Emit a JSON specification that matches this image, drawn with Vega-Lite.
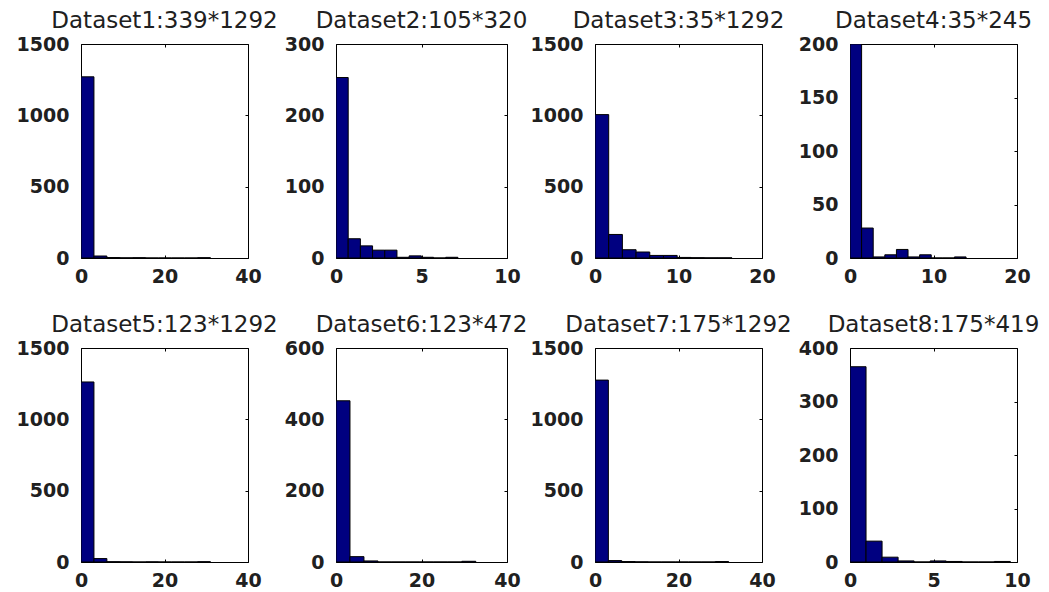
{
  "$schema": "https://vega.github.io/schema/vega-lite/v6.json",
  "background": "white",
  "padding": {"left": 15, "top": 9, "right": 0, "bottom": 0},
  "datasets": {
    "hist": [
      {"p": 1, "a": 0, "b": 3.1, "n": 1270}, {"p": 1, "a": 3.1, "b": 6.2, "n": 14}, {"p": 1, "a": 6.2, "b": 9.3, "n": 3}, {"p": 1, "a": 9.3, "b": 12.4, "n": 1}, {"p": 1, "a": 12.4, "b": 15.5, "n": 2}, {"p": 1, "a": 15.5, "b": 18.6, "n": 0}, {"p": 1, "a": 18.6, "b": 21.7, "n": 0}, {"p": 1, "a": 21.7, "b": 24.8, "n": 0}, {"p": 1, "a": 24.8, "b": 27.9, "n": 0}, {"p": 1, "a": 27.9, "b": 31.0, "n": 2},
      {"p": 2, "a": 0, "b": 0.713, "n": 253}, {"p": 2, "a": 0.713, "b": 1.426, "n": 27}, {"p": 2, "a": 1.426, "b": 2.139, "n": 17}, {"p": 2, "a": 2.139, "b": 2.852, "n": 11}, {"p": 2, "a": 2.852, "b": 3.565, "n": 11}, {"p": 2, "a": 3.565, "b": 4.278, "n": 1}, {"p": 2, "a": 4.278, "b": 4.991, "n": 3}, {"p": 2, "a": 4.991, "b": 5.704, "n": 1}, {"p": 2, "a": 5.704, "b": 6.417, "n": 0}, {"p": 2, "a": 6.417, "b": 7.13, "n": 1},
      {"p": 3, "a": 0, "b": 1.64, "n": 1005}, {"p": 3, "a": 1.64, "b": 3.28, "n": 165}, {"p": 3, "a": 3.28, "b": 4.92, "n": 58}, {"p": 3, "a": 4.92, "b": 6.56, "n": 42}, {"p": 3, "a": 6.56, "b": 8.2, "n": 18}, {"p": 3, "a": 8.2, "b": 9.84, "n": 18}, {"p": 3, "a": 9.84, "b": 11.48, "n": 4}, {"p": 3, "a": 11.48, "b": 13.12, "n": 2}, {"p": 3, "a": 13.12, "b": 14.76, "n": 1}, {"p": 3, "a": 14.76, "b": 16.4, "n": 1},
      {"p": 4, "a": 0, "b": 1.39, "n": 200}, {"p": 4, "a": 1.39, "b": 2.78, "n": 28}, {"p": 4, "a": 2.78, "b": 4.17, "n": 1}, {"p": 4, "a": 4.17, "b": 5.56, "n": 3}, {"p": 4, "a": 5.56, "b": 6.95, "n": 8}, {"p": 4, "a": 6.95, "b": 8.34, "n": 1}, {"p": 4, "a": 8.34, "b": 9.73, "n": 3}, {"p": 4, "a": 9.73, "b": 11.12, "n": 0}, {"p": 4, "a": 11.12, "b": 12.51, "n": 0}, {"p": 4, "a": 12.51, "b": 13.9, "n": 1},
      {"p": 5, "a": 0, "b": 3.1, "n": 1262}, {"p": 5, "a": 3.1, "b": 6.2, "n": 24}, {"p": 5, "a": 6.2, "b": 9.3, "n": 2}, {"p": 5, "a": 9.3, "b": 12.4, "n": 1}, {"p": 5, "a": 12.4, "b": 15.5, "n": 0}, {"p": 5, "a": 15.5, "b": 18.6, "n": 1}, {"p": 5, "a": 18.6, "b": 21.7, "n": 0}, {"p": 5, "a": 21.7, "b": 24.8, "n": 0}, {"p": 5, "a": 24.8, "b": 27.9, "n": 0}, {"p": 5, "a": 27.9, "b": 31.0, "n": 2},
      {"p": 6, "a": 0, "b": 3.27, "n": 452}, {"p": 6, "a": 3.27, "b": 6.54, "n": 15}, {"p": 6, "a": 6.54, "b": 9.81, "n": 3}, {"p": 6, "a": 9.81, "b": 13.08, "n": 0}, {"p": 6, "a": 13.08, "b": 16.35, "n": 0}, {"p": 6, "a": 16.35, "b": 19.62, "n": 0}, {"p": 6, "a": 19.62, "b": 22.89, "n": 0}, {"p": 6, "a": 22.89, "b": 26.16, "n": 0}, {"p": 6, "a": 26.16, "b": 29.43, "n": 0}, {"p": 6, "a": 29.43, "b": 32.7, "n": 2},
      {"p": 7, "a": 0, "b": 3.2, "n": 1275}, {"p": 7, "a": 3.2, "b": 6.4, "n": 10}, {"p": 7, "a": 6.4, "b": 9.6, "n": 3}, {"p": 7, "a": 9.6, "b": 12.8, "n": 1}, {"p": 7, "a": 12.8, "b": 16, "n": 0}, {"p": 7, "a": 16, "b": 19.2, "n": 0}, {"p": 7, "a": 19.2, "b": 22.4, "n": 0}, {"p": 7, "a": 22.4, "b": 25.6, "n": 0}, {"p": 7, "a": 25.6, "b": 28.8, "n": 0}, {"p": 7, "a": 28.8, "b": 32, "n": 3},
      {"p": 8, "a": 0, "b": 0.96, "n": 365}, {"p": 8, "a": 0.96, "b": 1.92, "n": 39}, {"p": 8, "a": 1.92, "b": 2.88, "n": 9}, {"p": 8, "a": 2.88, "b": 3.84, "n": 2}, {"p": 8, "a": 3.84, "b": 4.8, "n": 0}, {"p": 8, "a": 4.8, "b": 5.76, "n": 2}, {"p": 8, "a": 5.76, "b": 6.72, "n": 1}, {"p": 8, "a": 6.72, "b": 7.68, "n": 0}, {"p": 8, "a": 7.68, "b": 8.64, "n": 0}, {"p": 8, "a": 8.64, "b": 9.6, "n": 1}
    ]
  },
  "data": {"name": "hist"},
  "columns": 4,
  "spacing": {"row": 90, "column": 88},
  "bounds": "flush",
  "concat": [
    {
      "width": 167, "height": 214, "title": "Dataset1:339*1292",
      "transform": [{"filter": "datum.p == 1"}],
      "layer": [
        {"mark": {"type": "rect", "fill": "#000080", "stroke": "#000000", "strokeWidth": 1, "clip": true},
         "encoding": {
           "x": {"field": "a", "type": "quantitative", "scale": {"domain": [0, 40], "nice": false}, "axis": {"orient": "bottom", "values": [0, 20, 40]}},
           "x2": {"field": "b"},
           "y": {"field": "n", "type": "quantitative", "scale": {"domain": [0, 1500], "nice": false}, "axis": {"orient": "left", "values": [0, 500, 1000, 1500]}},
           "y2": {"datum": 0}}},
        {"mark": {"type": "rect", "opacity": 0},
         "encoding": {
           "x": {"field": "a", "type": "quantitative", "axis": {"orient": "top", "values": [0, 20, 40], "labels": false}},
           "x2": {"field": "b"},
           "y": {"field": "n", "type": "quantitative", "axis": {"orient": "right", "values": [0, 500, 1000, 1500], "labels": false}},
           "y2": {"datum": 0}}}
      ],
      "resolve": {"axis": {"x": "independent", "y": "independent"}}
    },
    {
      "width": 171, "height": 214, "title": "Dataset2:105*320",
      "transform": [{"filter": "datum.p == 2"}],
      "layer": [
        {"mark": {"type": "rect", "fill": "#000080", "stroke": "#000000", "strokeWidth": 1, "clip": true},
         "encoding": {
           "x": {"field": "a", "type": "quantitative", "scale": {"domain": [0, 10], "nice": false}, "axis": {"orient": "bottom", "values": [0, 5, 10]}},
           "x2": {"field": "b"},
           "y": {"field": "n", "type": "quantitative", "scale": {"domain": [0, 300], "nice": false}, "axis": {"orient": "left", "values": [0, 100, 200, 300]}},
           "y2": {"datum": 0}}},
        {"mark": {"type": "rect", "opacity": 0},
         "encoding": {
           "x": {"field": "a", "type": "quantitative", "axis": {"orient": "top", "values": [0, 5, 10], "labels": false}},
           "x2": {"field": "b"},
           "y": {"field": "n", "type": "quantitative", "axis": {"orient": "right", "values": [0, 100, 200, 300], "labels": false}},
           "y2": {"datum": 0}}}
      ],
      "resolve": {"axis": {"x": "independent", "y": "independent"}}
    },
    {
      "width": 167, "height": 214, "title": "Dataset3:35*1292",
      "transform": [{"filter": "datum.p == 3"}],
      "layer": [
        {"mark": {"type": "rect", "fill": "#000080", "stroke": "#000000", "strokeWidth": 1, "clip": true},
         "encoding": {
           "x": {"field": "a", "type": "quantitative", "scale": {"domain": [0, 20], "nice": false}, "axis": {"orient": "bottom", "values": [0, 10, 20]}},
           "x2": {"field": "b"},
           "y": {"field": "n", "type": "quantitative", "scale": {"domain": [0, 1500], "nice": false}, "axis": {"orient": "left", "values": [0, 500, 1000, 1500]}},
           "y2": {"datum": 0}}},
        {"mark": {"type": "rect", "opacity": 0},
         "encoding": {
           "x": {"field": "a", "type": "quantitative", "axis": {"orient": "top", "values": [0, 10, 20], "labels": false}},
           "x2": {"field": "b"},
           "y": {"field": "n", "type": "quantitative", "axis": {"orient": "right", "values": [0, 500, 1000, 1500], "labels": false}},
           "y2": {"datum": 0}}}
      ],
      "resolve": {"axis": {"x": "independent", "y": "independent"}}
    },
    {
      "width": 167, "height": 214, "title": "Dataset4:35*245",
      "transform": [{"filter": "datum.p == 4"}],
      "layer": [
        {"mark": {"type": "rect", "fill": "#000080", "stroke": "#000000", "strokeWidth": 1, "clip": true},
         "encoding": {
           "x": {"field": "a", "type": "quantitative", "scale": {"domain": [0, 20], "nice": false}, "axis": {"orient": "bottom", "values": [0, 10, 20]}},
           "x2": {"field": "b"},
           "y": {"field": "n", "type": "quantitative", "scale": {"domain": [0, 200], "nice": false}, "axis": {"orient": "left", "values": [0, 50, 100, 150, 200]}},
           "y2": {"datum": 0}}},
        {"mark": {"type": "rect", "opacity": 0},
         "encoding": {
           "x": {"field": "a", "type": "quantitative", "axis": {"orient": "top", "values": [0, 10, 20], "labels": false}},
           "x2": {"field": "b"},
           "y": {"field": "n", "type": "quantitative", "axis": {"orient": "right", "values": [0, 50, 100, 150, 200], "labels": false}},
           "y2": {"datum": 0}}}
      ],
      "resolve": {"axis": {"x": "independent", "y": "independent"}}
    },
    {
      "width": 167, "height": 214, "title": "Dataset5:123*1292",
      "transform": [{"filter": "datum.p == 5"}],
      "layer": [
        {"mark": {"type": "rect", "fill": "#000080", "stroke": "#000000", "strokeWidth": 1, "clip": true},
         "encoding": {
           "x": {"field": "a", "type": "quantitative", "scale": {"domain": [0, 40], "nice": false}, "axis": {"orient": "bottom", "values": [0, 20, 40]}},
           "x2": {"field": "b"},
           "y": {"field": "n", "type": "quantitative", "scale": {"domain": [0, 1500], "nice": false}, "axis": {"orient": "left", "values": [0, 500, 1000, 1500]}},
           "y2": {"datum": 0}}},
        {"mark": {"type": "rect", "opacity": 0},
         "encoding": {
           "x": {"field": "a", "type": "quantitative", "axis": {"orient": "top", "values": [0, 20, 40], "labels": false}},
           "x2": {"field": "b"},
           "y": {"field": "n", "type": "quantitative", "axis": {"orient": "right", "values": [0, 500, 1000, 1500], "labels": false}},
           "y2": {"datum": 0}}}
      ],
      "resolve": {"axis": {"x": "independent", "y": "independent"}}
    },
    {
      "width": 171, "height": 214, "title": "Dataset6:123*472",
      "transform": [{"filter": "datum.p == 6"}],
      "layer": [
        {"mark": {"type": "rect", "fill": "#000080", "stroke": "#000000", "strokeWidth": 1, "clip": true},
         "encoding": {
           "x": {"field": "a", "type": "quantitative", "scale": {"domain": [0, 40], "nice": false}, "axis": {"orient": "bottom", "values": [0, 20, 40]}},
           "x2": {"field": "b"},
           "y": {"field": "n", "type": "quantitative", "scale": {"domain": [0, 600], "nice": false}, "axis": {"orient": "left", "values": [0, 200, 400, 600]}},
           "y2": {"datum": 0}}},
        {"mark": {"type": "rect", "opacity": 0},
         "encoding": {
           "x": {"field": "a", "type": "quantitative", "axis": {"orient": "top", "values": [0, 20, 40], "labels": false}},
           "x2": {"field": "b"},
           "y": {"field": "n", "type": "quantitative", "axis": {"orient": "right", "values": [0, 200, 400, 600], "labels": false}},
           "y2": {"datum": 0}}}
      ],
      "resolve": {"axis": {"x": "independent", "y": "independent"}}
    },
    {
      "width": 167, "height": 214, "title": "Dataset7:175*1292",
      "transform": [{"filter": "datum.p == 7"}],
      "layer": [
        {"mark": {"type": "rect", "fill": "#000080", "stroke": "#000000", "strokeWidth": 1, "clip": true},
         "encoding": {
           "x": {"field": "a", "type": "quantitative", "scale": {"domain": [0, 40], "nice": false}, "axis": {"orient": "bottom", "values": [0, 20, 40]}},
           "x2": {"field": "b"},
           "y": {"field": "n", "type": "quantitative", "scale": {"domain": [0, 1500], "nice": false}, "axis": {"orient": "left", "values": [0, 500, 1000, 1500]}},
           "y2": {"datum": 0}}},
        {"mark": {"type": "rect", "opacity": 0},
         "encoding": {
           "x": {"field": "a", "type": "quantitative", "axis": {"orient": "top", "values": [0, 20, 40], "labels": false}},
           "x2": {"field": "b"},
           "y": {"field": "n", "type": "quantitative", "axis": {"orient": "right", "values": [0, 500, 1000, 1500], "labels": false}},
           "y2": {"datum": 0}}}
      ],
      "resolve": {"axis": {"x": "independent", "y": "independent"}}
    },
    {
      "width": 167, "height": 214, "title": "Dataset8:175*419",
      "transform": [{"filter": "datum.p == 8"}],
      "layer": [
        {"mark": {"type": "rect", "fill": "#000080", "stroke": "#000000", "strokeWidth": 1, "clip": true},
         "encoding": {
           "x": {"field": "a", "type": "quantitative", "scale": {"domain": [0, 10], "nice": false}, "axis": {"orient": "bottom", "values": [0, 5, 10]}},
           "x2": {"field": "b"},
           "y": {"field": "n", "type": "quantitative", "scale": {"domain": [0, 400], "nice": false}, "axis": {"orient": "left", "values": [0, 100, 200, 300, 400]}},
           "y2": {"datum": 0}}},
        {"mark": {"type": "rect", "opacity": 0},
         "encoding": {
           "x": {"field": "a", "type": "quantitative", "axis": {"orient": "top", "values": [0, 5, 10], "labels": false}},
           "x2": {"field": "b"},
           "y": {"field": "n", "type": "quantitative", "axis": {"orient": "right", "values": [0, 100, 200, 300, 400], "labels": false}},
           "y2": {"datum": 0}}}
      ],
      "resolve": {"axis": {"x": "independent", "y": "independent"}}
    }
  ],
  "config": {
    "view": {"stroke": "#000000", "strokeWidth": 1, "fill": "white"},
    "axis": {
      "grid": false, "domain": false, "title": null, "format": "d",
      "tickSize": -3, "tickColor": "#000000", "tickWidth": 1,
      "labelFont": "DejaVu Sans", "labelFontSize": 19, "labelFontWeight": "bold", "labelColor": "#202020",
      "labelFlush": false, "labelOverlap": false, "labelBound": false
    },
    "axisLeft": {"labelPadding": 15},
    "axisBottom": {"labelPadding": 12},
    "axisTop": {"minExtent": 0, "maxExtent": 0},
    "axisRight": {"minExtent": 0, "maxExtent": 0},
    "title": {"font": "DejaVu Sans", "fontSize": 23, "fontWeight": "normal", "color": "#202020", "anchor": "middle", "frame": "group", "baseline": "alphabetic", "offset": 2}
  }
}
